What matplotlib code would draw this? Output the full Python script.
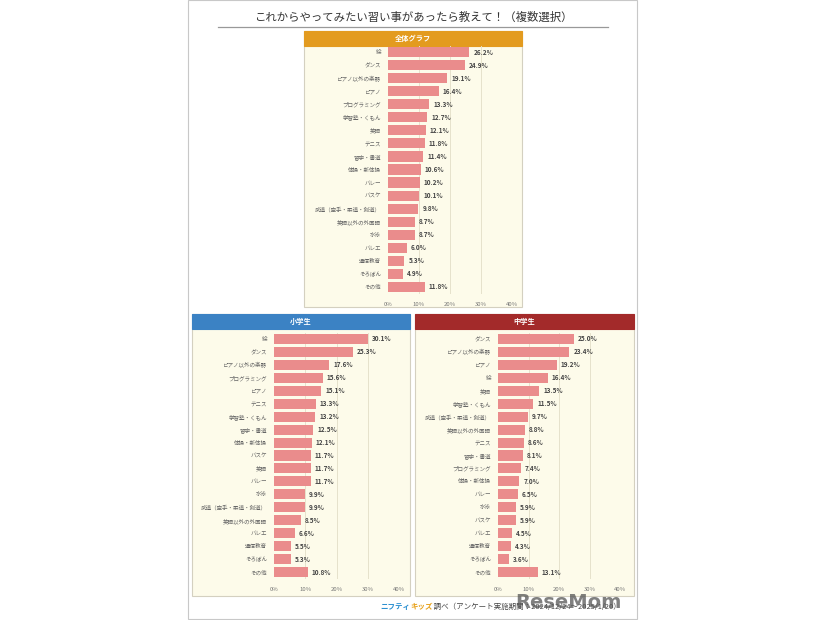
import matplotlib
matplotlib.use("Agg")
import matplotlib.pyplot as plt
from matplotlib.patches import Rectangle
from matplotlib.lines import Line2D

plt.rcParams['font.family'] = ['Noto Sans CJK JP', 'DejaVu Sans']

W, H = 826, 620

# 全体グラフ
all_labels = ['絵', 'ダンス', 'ピアノ以外の楽器', 'ピアノ', 'プログラミング', '学習塾・くもん',
              '英語', 'テニス', '習字・書道', '体操・新体操', 'バレー', 'バスケ',
              '武道（空手・柔道・剣道）', '英語以外の外国語', '水泳', 'バレエ', '通信教育',
              'そろばん', 'その他']
all_vals = [26.2, 24.9, 19.1, 16.4, 13.3, 12.7, 12.1, 11.8, 11.4, 10.6, 10.2, 10.1,
            9.8, 8.7, 8.7, 6.0, 5.3, 4.9, 11.8]

# 小学生
elem_labels = ['絵', 'ダンス', 'ピアノ以外の楽器', 'プログラミング', 'ピアノ', 'テニス',
               '学習塾・くもん', '習字・書道', '体操・新体操', 'バスケ', '英語', 'バレー',
               '水泳', '武道（空手・柔道・剣道）', '英語以外の外国語', 'バレエ', '通信教育',
               'そろばん', 'その他']
elem_vals = [30.1, 25.3, 17.6, 15.6, 15.1, 13.3, 13.2, 12.5, 12.1, 11.7, 11.7, 11.7,
             9.9, 9.9, 8.5, 6.6, 5.5, 5.3, 10.8]

# 中学生
jr_labels = ['ダンス', 'ピアノ以外の楽器', 'ピアノ', '絵', '英語', '学習塾・くもん',
             '武道（空手・柔道・剣道）', '英語以外の外国語', 'テニス', '習字・書道',
             'プログラミング', '体操・新体操', 'バレー', '水泳', 'バスケ', 'バレエ',
             '通信教育', 'そろばん', 'その他']
jr_vals = [25.0, 23.4, 19.2, 16.4, 13.5, 11.5, 9.7, 8.8, 8.6, 8.1, 7.4, 7.0, 6.5,
           5.9, 5.9, 4.5, 4.3, 3.6, 13.1]

ticks = [0, 10, 20, 30, 40]
tick_labels = ['0%', '10%', '20%', '30%', '40%']

BAR = '#ea8c8c'
BODY = '#fdfbea'


def rect(x0, y0, x1, y1):
    return [x0 / W, 1 - y1 / H, (x1 - x0) / W, (y1 - y0) / H]


fig = plt.figure(figsize=(W / 100, H / 100), dpi=100)

# 外枠
fig.patches.append(Rectangle((188 / W, 1 - 619 / H), (637 - 188) / W, 619 / H,
                             transform=fig.transFigure, fill=False,
                             edgecolor='#c8c8c8', lw=0.8, zorder=-2))

fig.text(413 / W, 1 - 17 / H, 'これからやってみたい習い事があったら教えて！（複数選択）',
         ha='center', va='center', fontsize=8.2, color='#333333')
fig.add_artist(Line2D([218 / W, 608 / W], [1 - 27 / H, 1 - 27 / H],
                      transform=fig.transFigure, color='#999999', lw=0.9))


def panel(box, head_col, title, axbox, labels, vals):
    x0, y0, x1, y1 = box
    # 本体
    fig.patches.append(Rectangle((x0 / W, 1 - y1 / H), (x1 - x0) / W, (y1 - y0) / H,
                                 transform=fig.transFigure, facecolor=BODY,
                                 edgecolor='#d4d0c0', lw=0.8, zorder=-2))
    # ヘッダー
    fig.patches.append(Rectangle((x0 / W, 1 - (y0 + 15) / H), (x1 - x0) / W, 15 / H,
                                 transform=fig.transFigure, facecolor=head_col,
                                 edgecolor=head_col, lw=0.8, zorder=-1))
    fig.text((x0 + x1) / 2 / W, 1 - (y0 + 7.5) / H, title, ha='center', va='center',
             fontsize=5.2, color='white', fontweight='bold')

    ax = fig.add_axes(rect(*axbox))
    ax.patch.set_alpha(0)
    y = list(range(len(labels)))
    ax.barh(y, vals, height=0.78, color=BAR, zorder=3)
    ax.set_xlim(0, 40)
    ax.set_ylim(len(labels) - 0.5, -0.5)
    for g in ticks[1:]:
        ax.axvline(g, color='#e6e2cc', lw=0.7, zorder=1)
    for i, v in enumerate(vals):
        ax.text(v + 1.3, i, f'{v:.1f}%', va='center', ha='left', fontsize=4.6,
                fontweight='bold', color='#444444')
    ax.set_yticks(y)
    ax.set_yticklabels(labels, fontsize=4.0, color='#666666')
    ax.set_xticks(ticks)
    ax.set_xticklabels(tick_labels, fontsize=4.3, color='#777777')
    ax.tick_params(length=0, pad=5)
    ax.tick_params(axis='x', pad=6)
    for s in ax.spines.values():
        s.set_visible(False)
    return ax


panel((304, 31, 522, 307), '#e39b1f', '全体グラフ', (388, 45.5, 512, 293.5),
      all_labels, all_vals)
panel((192, 314, 410, 596), '#3b82c4', '小学生', (274, 332.5, 399, 578.5),
      elem_labels, elem_vals)
panel((415, 314, 634, 596), '#a32a2a', '中学生', (498, 332.5, 620, 578.5),
      jr_labels, jr_vals)

# 出典（部品ごとに幅を測って並べる）
renderer = fig.canvas.get_renderer()
x = 380
for txt, col, wt in [('ニフティ', '#2a8fd0', 'bold'), ('キッズ', '#e8a21c', 'bold'),
                     (' 調べ（アンケート実施期間：2024/12/24～2025/1/20）', '#444444', 'normal')]:
    t = fig.text(x / W, 1 - 607 / H, txt, ha='left', va='center', fontsize=5.4,
                 color=col, fontweight=wt)
    x += t.get_window_extent(renderer).width

# 透かし
fig.text(568 / W, 1 - 603 / H, 'ReseMom', ha='center', va='center', fontsize=14,
         color='#555555', alpha=0.75, fontweight='bold', family='DejaVu Sans')

fig.savefig('out.png', dpi=100)
